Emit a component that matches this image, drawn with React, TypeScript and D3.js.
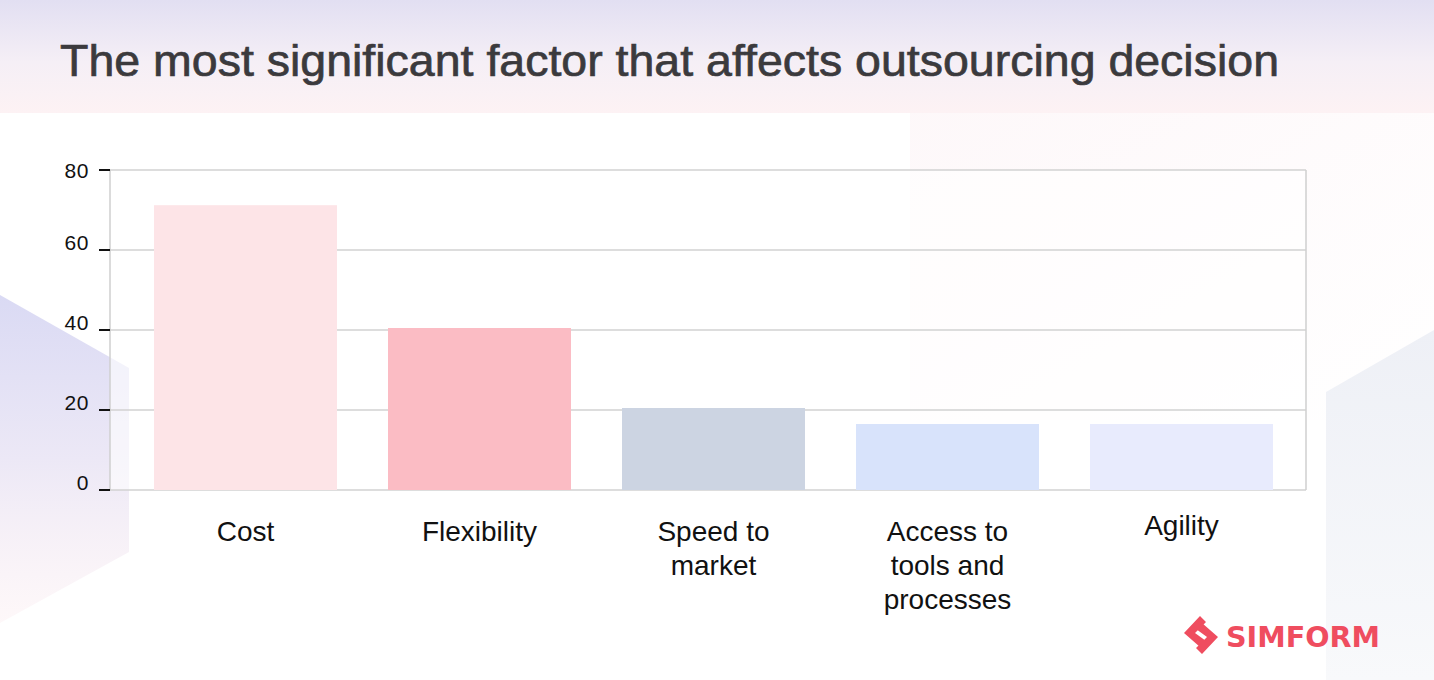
import React from "react";
import * as d3 from "d3";

const categories: string[][] = [
  ["Cost"],
  ["Flexibility"],
  ["Speed to", "market"],
  ["Access to", "tools and", "processes"],
  ["Agility"],
];
const values: number[] = [71.2, 40.5, 20.5, 16.5, 16.5];
const barColors: string[] = ["#fde4e7", "#fbbcc4", "#ccd4e2", "#d8e3fb", "#e8ebfd"];
const yTicks: number[] = [0, 20, 40, 60, 80];
const title = "The most significant factor that affects outsourcing decision";

const W = 1434;
const H = 680;
const plot = { left: 110, right: 1306, top: 170, bottom: 490 };

export default function App() {
  const keys = categories.map((c) => c.join(" "));
  const x = d3
    .scaleBand<string>()
    .domain(keys)
    .range([128.5, 1298.5])
    .paddingInner(0.218)
    .paddingOuter(0.109);
  const y = d3.scaleLinear().domain([0, 80]).range([plot.bottom, plot.top]);

  return (
    <div style={{ position: "absolute", left: 0, top: 0, width: W, height: H }}>
      <svg width={W} height={H} style={{ display: "block" }}>
        <defs>
          <linearGradient id="topBand" x1="0" y1="0" x2="0" y2="1">
            <stop offset="0" stopColor="#e2dff2" />
            <stop offset="0.55" stopColor="#f5eff6" />
            <stop offset="1" stopColor="#fdf2f4" />
          </linearGradient>
          <linearGradient id="leftShape" x1="0" y1="0" x2="0" y2="1">
            <stop offset="0" stopColor="#dadaf4" />
            <stop offset="0.5" stopColor="#ece8f6" />
            <stop offset="1" stopColor="#fdf3f5" stopOpacity="0.6" />
          </linearGradient>
          <linearGradient id="rightShape" x1="0" y1="0" x2="0" y2="1">
            <stop offset="0" stopColor="#eef0f6" />
            <stop offset="1" stopColor="#f8f9fb" />
          </linearGradient>
          <linearGradient id="faintShape" x1="0" y1="0" x2="1" y2="1">
            <stop offset="0" stopColor="#fdf6f8" />
            <stop offset="1" stopColor="#ffffff" />
          </linearGradient>
        </defs>
        <rect x={0} y={0} width={W} height={H} fill="#ffffff" />
        <rect x={0} y={0} width={W} height={113} fill="url(#topBand)" />
        <polygon points="910,113 1434,113 1434,330 1326,392 1326,420 910,420" fill="url(#faintShape)" opacity={0.8} />
        <polygon points="1326,392 1434,330 1434,680 1326,680" fill="url(#rightShape)" />
        <polygon points="0,295 129,368 129,552 0,623" fill="url(#leftShape)" />

        <text
          x={60}
          y={76}
          fontFamily="'Liberation Sans', Arial, sans-serif"
          fontSize={45}
          fontWeight={400}
          fill="#3b3a3d"
          stroke="#3b3a3d"
          strokeWidth={0.7}
          textLength={1219}
          lengthAdjust="spacingAndGlyphs"
        >
          {title}
        </text>

        {/* plot background */}
        <rect x={plot.left} y={plot.top} width={plot.right - plot.left} height={plot.bottom - plot.top} fill="#ffffff" fillOpacity={0.6} />

        {/* grid lines */}
        {yTicks.map((t) => (
          <line key={"g" + t} x1={plot.left} x2={plot.right} y1={y(t)} y2={y(t)} stroke="#d2d2d2" strokeWidth={1.5} />
        ))}
        <line x1={plot.left} x2={plot.left} y1={plot.top} y2={plot.bottom} stroke="#cfcfcf" strokeWidth={1.5} />
        <line x1={plot.right} x2={plot.right} y1={plot.top} y2={plot.bottom} stroke="#cfcfcf" strokeWidth={1.5} />

        {/* bars */}
        {keys.map((k, i) => (
          <rect
            key={k}
            x={x(k)}
            y={y(values[i])}
            width={x.bandwidth()}
            height={y(0) - y(values[i])}
            fill={barColors[i]}
          />
        ))}

        {/* y ticks */}
        {yTicks.map((t) => {
          const ty = y(t);
          const labelCenter = Math.max(ty - 8, plot.top);
          return (
            <g key={"t" + t}>
              <line x1={99} x2={110} y1={ty} y2={ty} stroke="#111" strokeWidth={2} />
              <text
                x={89}
                y={labelCenter}
                dy="0.36em"
                textAnchor="end"
                fontFamily="'Liberation Sans', Arial, sans-serif"
                fontSize={21}
                letterSpacing={0.6}
                fill="#111"
              >
                {t}
              </text>
            </g>
          );
        })}

        {/* category labels */}
        {keys.map((k, i) => (
          <text
            key={"l" + k}
            x={(x(k) as number) + x.bandwidth() / 2}
            y={k === "Agility" ? 535 : 541}
            textAnchor="middle"
            fontFamily="'Liberation Sans', Arial, sans-serif"
            fontSize={28}
            fill="#111"
          >
            {categories[i].map((line, j) => (
              <tspan key={j} x={(x(k) as number) + x.bandwidth() / 2} dy={j === 0 ? 0 : 34}>
                {line}
              </tspan>
            ))}
          </text>
        ))}

        {/* logo */}
        <g fill="#ef4d5f">
          <polygon points="1184,633 1200,616 1206,622 1195,633 1206,641 1200,647" />
          <polygon points="1218,637 1202,654 1196,648 1207,637 1196,629 1202,623" />
        </g>
        <text
          x={1226}
          y={647}
          fontFamily="'DejaVu Sans', 'Liberation Sans', sans-serif"
          fontSize={29}
          fontWeight={700}
          fill="#ef4d5f"
          textLength={154}
          lengthAdjust="spacingAndGlyphs"
        >
          SIMFORM
        </text>
      </svg>
    </div>
  );
}
